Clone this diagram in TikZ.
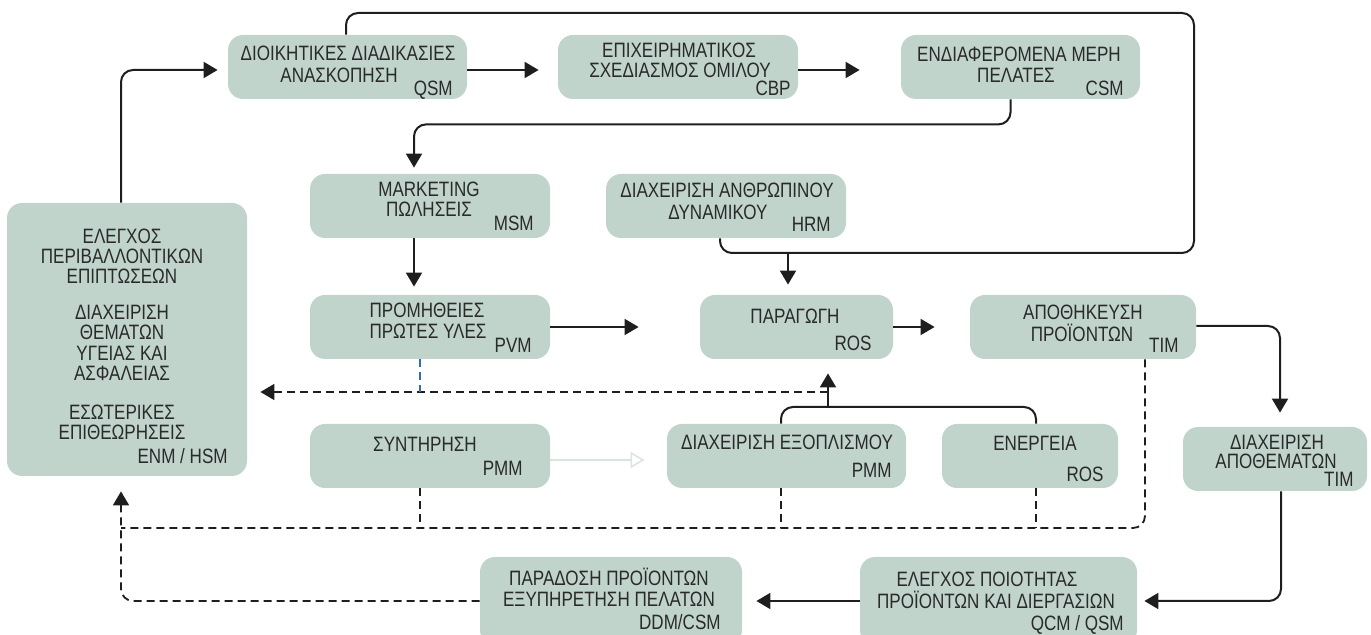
\documentclass[tikz,border=0pt]{standalone}
\usepackage{fontspec}
\setmainfont{Liberation Sans}[FakeStretch=0.82]
\usetikzlibrary{arrows.meta}
\definecolor{boxc}{HTML}{C0D4CC}
\definecolor{txtc}{HTML}{2A2A2A}
\definecolor{linec}{HTML}{1E1E1E}
\definecolor{bluec}{HTML}{2F6DB5}
\definecolor{ghost}{HTML}{DCE4E0}
\begin{document}
\begin{tikzpicture}[x=0.5pt,y=-0.5pt,
  box/.style={rounded corners=7.5pt, fill=boxc, draw=none, inner sep=0pt},
  lbl/.style={inner sep=0pt, text height=7.4pt, text depth=0pt, text=txtc,
    font=\fontsize{10.4pt}{12pt}\selectfont},
  code/.style={lbl, anchor=east},
  conn/.style={line width=1pt, draw=linec, rounded corners=6pt},
  arr/.style={conn, -{Triangle[length=7pt,width=8pt]}},
  dsh/.style={line width=0.9pt, draw=linec, dash pattern=on 4pt off 2.5pt, rounded corners=6pt},
  darr/.style={dsh, -{Triangle[length=7pt,width=8pt]}},
  ghostarr/.style={line width=0.8pt, draw=ghost, -{Triangle[open,length=7pt,width=8pt]}}
]
\useasboundingbox (0,0) rectangle (1371,635);
\clip (0,0) rectangle (1371,635);

% ---------- boxes ----------
\node[box, minimum width=119.5pt, minimum height=32pt] (dioik) at (347.5,67) {};
\node[box, minimum width=120pt, minimum height=32pt] (epix) at (678,67) {};
\node[box, minimum width=119.5pt, minimum height=32pt] (endia) at (1020.5,67) {};
\node[box, minimum width=120pt, minimum height=32pt] (mkt) at (430,206) {};
\node[box, minimum width=120pt, minimum height=32pt] (hrm) at (726,206) {};
\node[box, minimum width=120pt, minimum height=32pt] (prom) at (430,327) {};
\node[box, minimum width=96.5pt, minimum height=32pt] (parag) at (796.5,327) {};
\node[box, minimum width=113pt, minimum height=32pt] (apoth) at (1083,327) {};
\node[box, minimum width=120pt, minimum height=136.5pt] (env) at (127,339.5) {};
\node[box, minimum width=120pt, minimum height=32pt] (synt) at (430,456) {};
\node[box, minimum width=119.5pt, minimum height=32pt] (exopl) at (786.5,456) {};
\node[box, minimum width=88pt, minimum height=32pt] (energ) at (1030,456) {};
\node[box, minimum width=92pt, minimum height=32pt] (apothem) at (1275,459) {};
\node[box, minimum width=138.5pt, minimum height=44pt] (qc) at (998.5,601) {};
\node[box, minimum width=131pt, minimum height=44pt] (parad) at (611,601) {};

% ---------- texts ----------
\node[lbl] (t1a) at (348,53) {ΔΙΟΙΚΗΤΙΚΕΣ ΔΙΑΔΙΚΑΣΙΕΣ};
\node[lbl] (t1b) at (339,75) {ΑΝΑΣΚΟΠΗΣΗ};
\node[code] (t1c) at (453,88) {QSM};

\node[lbl] (t2a) at (679,50) {ΕΠΙΧΕΙΡΗΜΑΤΙΚΟΣ};
\node[lbl] (t2b) at (680,70) {ΣΧΕΔΙΑΣΜΟΣ ΟΜΙΛΟΥ};
\node[code] (t2c) at (791,88) {CBP};

\node[lbl] (t3a) at (1019,54) {ΕΝΔΙΑΦΕΡΟΜΕΝΑ ΜΕΡΗ};
\node[lbl] (t3b) at (1016,75) {ΠΕΛΑΤΕΣ};
\node[code] (t3c) at (1124,88) {CSM};

\node[lbl] (t4a) at (429,189) {MARKETING};
\node[lbl] (t4b) at (429,209) {ΠΩΛΗΣΕΙΣ};
\node[code] (t4c) at (534,223) {MSM};

\node[lbl] (t5a) at (727,190) {ΔΙΑΧΕΙΡΙΣΗ ΑΝΘΡΩΠΙΝΟΥ};
\node[lbl] (t5b) at (718,212) {ΔΥΝΑΜΙΚΟΥ};
\node[code] (t5c) at (831,224) {HRM};

\node[lbl] (t6a) at (427,310) {ΠΡΟΜΗΘΕΙΕΣ};
\node[lbl] (t6b) at (428,331) {ΠΡΩΤΕΣ ΥΛΕΣ};
\node[code] (t6c) at (532,345) {PVM};

\node[lbl] (t7a) at (795,316) {ΠΑΡΑΓΩΓΗ};
\node[code] (t7c) at (872,343) {ROS};

\node[lbl] (t8a) at (1083,312) {ΑΠΟΘΗΚΕΥΣΗ};
\node[lbl] (t8b) at (1082,334) {ΠΡΟΪΟΝΤΩΝ};
\node[code] (t8c) at (1179,345) {TIM};

\node[lbl] (t9a) at (122,236) {ΕΛΕΓΧΟΣ};
\node[lbl] (t9b) at (122,256) {ΠΕΡΙΒΑΛΛΟΝΤΙΚΩΝ};
\node[lbl] (t9c) at (122,276) {ΕΠΙΠΤΩΣΕΩΝ};
\node[lbl] (t9d) at (122,312) {ΔΙΑΧΕΙΡΙΣΗ};
\node[lbl] (t9e) at (122,332) {ΘΕΜΑΤΩΝ};
\node[lbl] (t9f) at (122,353) {ΥΓΕΙΑΣ ΚΑΙ};
\node[lbl] (t9g) at (122,373) {ΑΣΦΑΛΕΙΑΣ};
\node[lbl] (t9h) at (122,412) {ΕΣΩΤΕΡΙΚΕΣ};
\node[lbl] (t9i) at (122,432) {ΕΠΙΘΕΩΡΗΣΕΙΣ};
\node[code] (t9j) at (228,456) {ENM / HSM};

\node[lbl] (t10a) at (425,444) {ΣΥΝΤΗΡΗΣΗ};
\node[code] (t10c) at (523,468) {PMM};

\node[lbl] (t11a) at (787,442) {ΔΙΑΧΕΙΡΙΣΗ ΕΞΟΠΛΙΣΜΟΥ};
\node[code] (t11c) at (892,470) {PMM};

\node[lbl] (t12a) at (1035,443) {ΕΝΕΡΓΕΙΑ};
\node[code] (t12c) at (1104,474) {ROS};

\node[lbl] (t13a) at (1277,442) {ΔΙΑΧΕΙΡΙΣΗ};
\node[lbl] (t13b) at (1276,461) {ΑΠΟΘΕΜΑΤΩΝ};
\node[code] (t13c) at (1354,479) {TIM};

\node[lbl] (t14a) at (987,579) {ΕΛΕΓΧΟΣ ΠΟΙΟΤΗΤΑΣ};
\node[lbl] (t14b) at (996,601) {ΠΡΟΪΟΝΤΩΝ ΚΑΙ ΔΙΕΡΓΑΣΙΩΝ};
\node[code] (t14c) at (1124,623) {QCM / QSM};

\node[lbl] (t15a) at (609,578) {ΠΑΡΑΔΟΣΗ ΠΡΟΪΟΝΤΩΝ};
\node[lbl] (t15b) at (609,599) {ΕΞΥΠΗΡΕΤΗΣΗ ΠΕΛΑΤΩΝ};
\node[code] (t15c) at (721,622) {DDM/CSM};

% ---------- helper coordinates ----------
\coordinate (lpTL) at (346,13);
\coordinate (lpTR) at (1194,13);
\coordinate (lpBR) at (1194,253);
\coordinate (lpBL) at (720,253);
\coordinate (j1) at (788,253);
\coordinate (j2) at (828,392);
\coordinate (br) at (828,407);
\coordinate (busl) at (121,528);

% ---------- solid connectors ----------
\draw[arr, shorten >=5pt] ([xshift=-3pt]env.north) |- ([yshift=-1.5pt]dioik.west);
\draw[arr, shorten >=9.5pt] ([yshift=-1.5pt]dioik.east) -- ([yshift=-1.5pt]epix.west);
\draw[arr, shorten >=20.5pt] ([yshift=-1.5pt]epix.east) -- ([yshift=-1.5pt]endia.west);
\draw[arr, shorten >=3pt] ([xshift=-5pt]endia.south) -- ++(0,25) -| ([xshift=-8pt]mkt.north);
\draw[conn] ([xshift=-0.75pt]dioik.north) -- (lpTL) -- (lpTR) -- (lpBR) -- (lpBL) -- (lpBL |- hrm.south);
\draw[arr, shorten >=5pt] (j1) -- (j1 |- parag.north);
\draw[arr, shorten >=4pt] ([xshift=-8pt]mkt.south) -- ([xshift=-8pt]prom.north);
\draw[arr, shorten >=30.5pt] (prom.east) -- (parag.west);
\draw[arr, shorten >=17.5pt] (parag.east) -- (apoth.west);
\draw[arr, shorten >=7pt] ([yshift=0.5pt]apoth.east) -| ([xshift=2.5pt]apothem.north);
\draw[arr, shorten >=3.5pt] ([xshift=3pt]apothem.south) |- (qc.east);
\draw[arr, shorten >=7pt] (qc.west) -- (parad.east);
\draw[conn] ([xshift=-2.75pt]exopl.north) |- (br) -| ([xshift=3pt]energ.north);
\draw[arr, shorten >=7pt] (br) -- (br |- parag.south);

% ---------- light arrow ----------
\draw[ghostarr, shorten >=11pt] ([yshift=-2pt]synt.east) -- ([yshift=-2pt]exopl.west);

% ---------- dashed connectors ----------
\draw[darr, shorten >=6.5pt] (j2) -- (j2 -| env.east);
\draw[line width=0.7pt, draw=bluec, dash pattern=on 4pt off 2.5pt] ([xshift=-5pt]prom.south) -- ([xshift=-5pt]prom.south |- j2);
\draw[darr, shorten >=7.5pt] (parad.west) -| ([xshift=-3pt]env.south);
\draw[dsh] ([xshift=31pt]apoth.south) |- (busl);
\draw[dsh] ([xshift=-5pt]synt.south) -- ([xshift=-5pt]synt.south |- busl);
\draw[dsh] ([xshift=-2.75pt]exopl.south) -- ([xshift=-2.75pt]exopl.south |- busl);
\draw[dsh] ([xshift=3pt]energ.south) -- ([xshift=3pt]energ.south |- busl);
\end{tikzpicture}
\end{document}
